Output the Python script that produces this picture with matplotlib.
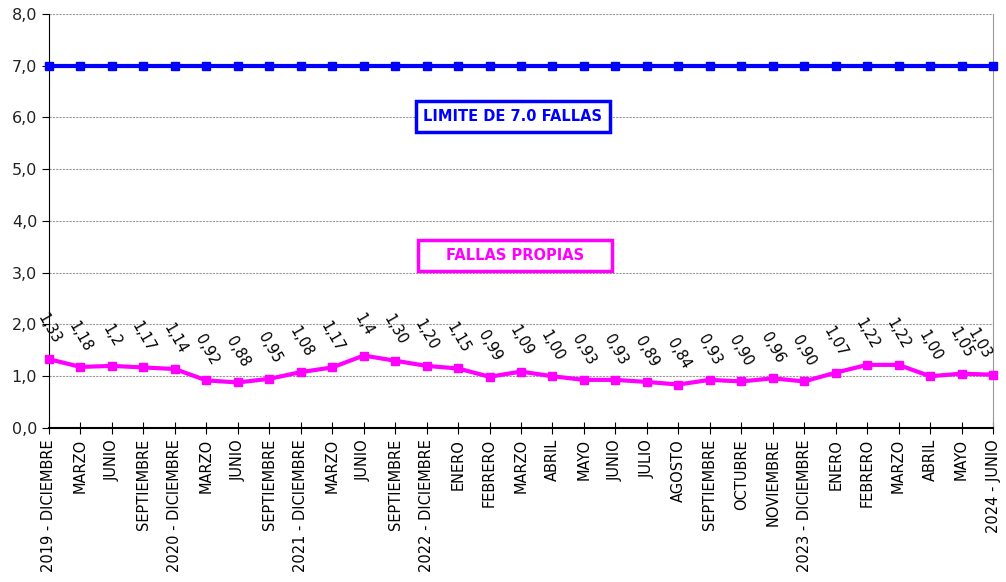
import numpy as np
import matplotlib.pyplot as plt
from matplotlib.patches import Rectangle

periodos = ["2019 - DICIEMBRE", "MARZO", "JUNIO", "SEPTIEMBRE",
            "2020 - DICIEMBRE", "MARZO", "JUNIO", "SEPTIEMBRE",
            "2021 - DICIEMBRE", "MARZO", "JUNIO", "SEPTIEMBRE",
            "2022 - DICIEMBRE", "ENERO", "FEBRERO", "MARZO", "ABRIL", "MAYO",
            "JUNIO", "JULIO", "AGOSTO", "SEPTIEMBRE", "OCTUBRE", "NOVIEMBRE",
            "2023 - DICIEMBRE", "ENERO", "FEBRERO", "MARZO", "ABRIL", "MAYO",
            "2024 - JUNIO"]
fallas = [1.33, 1.18, 1.2, 1.17, 1.14, 0.92, 0.88, 0.95, 1.08, 1.17, 1.4, 1.30,
          1.20, 1.15, 0.99, 1.09, 1.00, 0.93, 0.93, 0.89, 0.84, 0.93, 0.90, 0.96,
          0.90, 1.07, 1.22, 1.22, 1.00, 1.05, 1.03]
etiquetas = ["1,33", "1,18", "1,2", "1,17", "1,14", "0,92", "0,88", "0,95", "1,08",
             "1,17", "1,4", "1,30", "1,20", "1,15", "0,99", "1,09", "1,00", "0,93",
             "0,93", "0,89", "0,84", "0,93", "0,90", "0,96", "0,90", "1,07", "1,22",
             "1,22", "1,00", "1,05", "1,03"]
limite = [7.0] * len(periodos)

plt.rcParams['font.family'] = ['DejaVu Sans']

fig = plt.figure(figsize=(10.06, 5.82), dpi=100)
ax = fig.add_axes([0.0487, 0.2646, 0.9384, 0.7114])

x = np.arange(len(periodos))

ax.plot(x, limite, color='#0000FF', lw=3, marker='s', ms=6, clip_on=False, zorder=3)
ax.plot(x, fallas, color='#FF00FF', lw=3, marker='s', ms=6, clip_on=False, zorder=3)

for i, (xi, yi, t) in enumerate(zip(x, fallas, etiquetas)):
    dx = -10 if i == len(x) - 1 else 0
    ax.annotate(t, (xi, yi), xytext=(dx, 22), textcoords='offset points',
                rotation=-60, ha='center', va='center', fontsize=10.5)

ax.set_xlim(0, 30)
ax.set_ylim(0, 8)
ax.set_yticks(np.arange(0, 9, 1))
ax.set_yticklabels([f"{v},0" for v in range(9)], fontsize=11.5, color='#222222')
ax.set_xticks(x)
ax.set_xticklabels(periodos, rotation=90, fontsize=10.5)
ax.tick_params(axis='x', direction='inout', length=8, pad=4)
ax.tick_params(axis='y', direction='out', length=5)

ax.yaxis.grid(True, color='#999999', ls=(0, (2, 1)), lw=0.8)
ax.set_axisbelow(True)
ax.spines['top'].set_visible(False)
ax.spines['right'].set_color('#999999')
ax.spines['left'].set_color('black')
ax.spines['bottom'].set_color('black')
ax.spines['bottom'].set_linewidth(1.5)

# cuadros de texto
for cx, cy, txt, col in [(14.74, 6.01, "LIMITE DE 7.0 FALLAS", '#0000FF'),
                         (14.8, 3.34, "FALLAS PROPIAS", '#FF00FF')]:
    ax.add_patch(Rectangle((cx - 3.08, cy - 0.3), 6.16, 0.6, fc='white',
                           ec=col, lw=2.5, zorder=4))
    ax.text(cx, cy, txt, color=col, fontsize=10.5, fontweight='bold',
            ha='center', va='center', zorder=5)

fig.savefig('out.png', dpi=100)
